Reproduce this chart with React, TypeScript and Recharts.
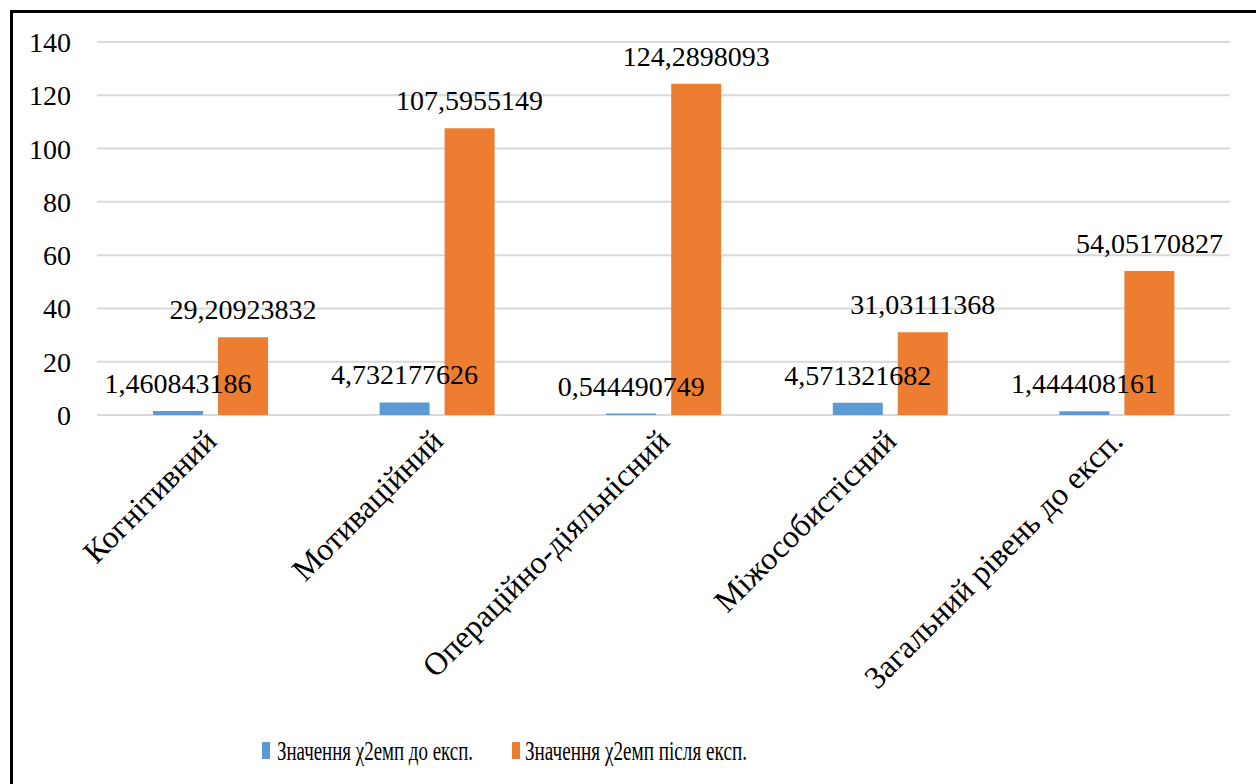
import React from "react";
import {
  BarChart,
  Bar,
  XAxis,
  YAxis,
  CartesianGrid,
  Legend,
  LabelList,
} from "recharts";

const categories = [
  "Когнітивний",
  "Мотиваційний",
  "Операційно-діяльнісний",
  "Міжособистісний",
  "Загальний рівень до експ.",
];
const beforeValues = [1.460843186, 4.732177626, 0.544490749, 4.571321682, 1.444408161];
const afterValues = [29.20923832, 107.5955149, 124.2898093, 31.03111368, 54.05170827];
const yTicks = [0, 20, 40, 60, 80, 100, 120, 140];
const seriesNames = ["Значення χ2емп до експ.", "Значення χ2емп після експ."];

const FONT = "Liberation Serif";
const BLUE = "#5B9BD5";
const ORANGE = "#ED7D31";

const data = categories.map((name, i) => ({
  name,
  before: beforeValues[i],
  after: afterValues[i],
}));

const fmt = (v: any) => String(v).replace(".", ",");

function CategoryTick(props: any) {
  const { x, y, payload } = props;
  return (
    <g transform={`translate(${x + 8},${y + 28}) rotate(-45)`}>
      <text x={0} y={0} textAnchor="end" fill="#000" fontSize={32} fontFamily={FONT}>
        {payload.value}
      </text>
    </g>
  );
}

function ValueTick(props: any) {
  const { x, y, payload } = props;
  return (
    <text x={x} y={y + 10} textAnchor="end" fill="#000" fontSize={28} fontFamily={FONT}>
      {payload.value}
    </text>
  );
}

function BarValue(props: any) {
  const { x, y, width, value } = props;
  return (
    <text
      x={x + width / 2}
      y={y - 18}
      textAnchor="middle"
      fill="#000"
      fontSize={28}
      fontFamily={FONT}
    >
      {fmt(value)}
    </text>
  );
}

function ChartLegend() {
  // legend text in the source is squeezed sideways, so draw it small and stretch it tall
  const items = [
    { color: BLUE, label: seriesNames[0], x: 249, textX: 264, w: 196 },
    { color: ORANGE, label: seriesNames[1], x: 499, textX: 512, w: 222 },
  ];
  return (
    <svg width={1243} height={50} style={{ display: "block" }}>
      {items.map((it) => (
        <g key={it.label}>
          <rect x={it.x} y={8} width={8} height={17} fill={it.color} />
          <g transform="translate(0,26) scale(1,1.45)">
            <text
              x={it.textX}
              y={0}
              fontSize={19}
              fontFamily={FONT}
              fill="#000"
              textLength={it.w}
              lengthAdjust="spacingAndGlyphs"
            >
              {it.label}
            </text>
          </g>
        </g>
      ))}
    </svg>
  );
}

export default function App() {
  return (
    <div
      style={{
        position: "absolute",
        left: 10,
        top: 10,
        borderTop: "3px solid #000",
        borderLeft: "3px solid #000",
        background: "#fff",
        fontFamily: FONT,
      }}
    >
      <BarChart
        width={1243}
        height={771}
        data={data}
        margin={{ top: 29, right: 26, left: 0, bottom: 0 }}
        barSize={50}
        barGap={15}
      >
        <CartesianGrid vertical={false} stroke="#d9d9d9" strokeWidth={2} />
        <XAxis
          dataKey="name"
          axisLine={false}
          tickLine={false}
          tickSize={0}
          tickMargin={0}
          interval={0}
          height={319}
          tick={<CategoryTick />}
        />
        <YAxis
          width={84}
          domain={[0, 140]}
          ticks={yTicks}
          axisLine={false}
          tickLine={false}
          tickSize={0}
          tickMargin={26}
          tick={<ValueTick />}
        />
        <Legend verticalAlign="bottom" height={50} content={<ChartLegend />} />
        <Bar dataKey="before" name={seriesNames[0]} fill={BLUE} isAnimationActive={false}>
          <LabelList dataKey="before" content={<BarValue />} />
        </Bar>
        <Bar dataKey="after" name={seriesNames[1]} fill={ORANGE} isAnimationActive={false}>
          <LabelList dataKey="after" content={<BarValue />} />
        </Bar>
      </BarChart>
    </div>
  );
}
